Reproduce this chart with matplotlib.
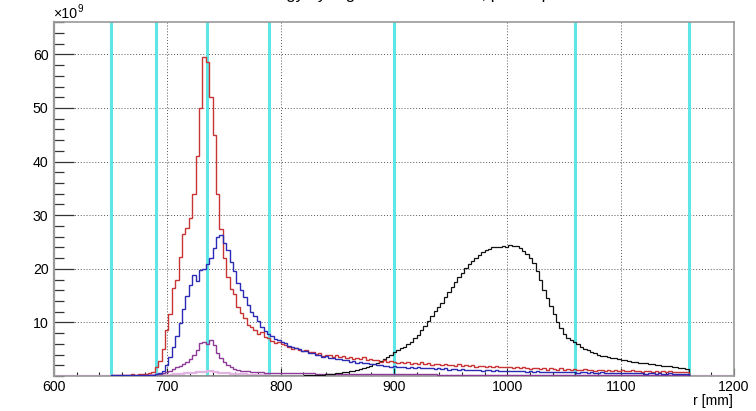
import numpy as np
import matplotlib
matplotlib.use("Agg")
import matplotlib.pyplot as plt
from matplotlib.ticker import MultipleLocator

plt.rcParams['font.family'] = ['Liberation Sans', 'DejaVu Sans']

# ---------------- data (values in units of 1e9) ----------------
BIN_LO, BIN_HI, BIN_W = 650, 1160, 3          # main histograms
PINK_LO, PINK_HI, PINK_W = 600, 1200, 5       # light-pink histogram

red_vals = [0.1,0.1,0.2,0.1,0.2,0.15,0.3,0.2,0.3,0.35,0.3,0.5,0.8,
            1.6,2.8,5.0,8.5,11.5,16.5,17.9,22.2,26.5,27.6,29.5,34.0,41.0,50.0,59.5,58.5,52.0,45.0,34.0,27.5,
            22.0,18.5,16.2,15.3,12.9,11.8,10.8,9.6,9.2,8.6,7.9,8.2,7.3,7.0,6.6,6.2,6.4,
            5.9,5.8,5.5,5.0,5.2,4.8,4.6,4.9,4.4,4.5,4.1,4.3,3.8,4.0,3.9,3.6,3.9,3.5,3.7,3.4,
            3.6,3.2,3.4,3.1,3.5,3.0,3.2,2.9,3.0,2.7,2.9,2.6,2.8,2.6,
            2.5,2.7,2.4,2.6,2.3,2.5,2.3,2.6,2.2,2.4,2.1,2.3,2.2,2.0,2.3,2.0,2.1,1.9,2.2,1.9,
            2.0,1.8,2.0,1.7,1.9,1.8,1.7,1.9,1.6,1.8,1.6,1.7,1.6,
            1.7,1.5,1.6,1.4,1.6,1.5,1.3,1.5,1.4,1.3,1.5,1.2,1.4,1.3,1.2,1.4,1.2,1.3,1.1,1.3,
            1.2,1.1,1.3,1.1,1.2,1.0,1.2,1.1,1.0,1.2,1.0,1.1,1.0,
            1.1,0.9,1.0,1.1,0.9,1.0,0.8,1.0,0.9,0.8,1.0,0.8,0.9,0.7,0.9,0.8,0.7,0.8,0.7,0.8]

blue_vals = [0.1,0.1,0.1,0.15,0.1,0.15,0.1,0.2,0.15,0.2,0.15,0.2,0.2,
             0.3,0.5,0.9,2.0,3.5,5.5,7.5,9.8,12.5,15.0,17.0,18.8,17.8,19.8,20.0,20.9,22.0,23.8,26.0,26.3,
             24.8,23.5,21.3,19.5,17.4,16.0,14.8,13.2,12.0,11.2,10.2,9.2,8.4,7.8,7.4,6.9,6.7,
             6.3,6.1,5.6,5.5,5.2,5.0,4.7,4.6,4.3,4.2,3.9,4.0,3.6,3.7,3.3,3.4,3.1,3.2,2.9,3.0,
             2.7,2.8,2.5,2.7,2.4,2.4,2.2,2.3,2.0,2.1,1.9,1.9,1.7,1.8,
             1.7,1.6,1.7,1.5,1.6,1.5,1.6,1.4,1.5,1.4,1.5,1.3,1.4,1.3,1.4,1.2,1.3,1.3,1.2,1.3,
             1.1,1.2,1.2,1.1,1.2,1.0,1.1,1.1,1.0,1.1,1.0,1.0,1.0,
             1.0,0.9,1.0,0.9,0.9,0.8,0.9,0.8,0.9,0.8,0.8,0.7,0.8,0.8,0.7,0.8,0.7,0.7,0.8,0.7,
             0.6,0.7,0.7,0.6,0.7,0.6,0.6,0.7,0.6,0.6,0.5,0.6,0.6,
             0.6,0.5,0.6,0.5,0.5,0.6,0.5,0.4,0.5,0.5,0.4,0.5,0.4,0.4,0.5,0.4,0.4,0.3,0.4,0.3]

black_vals = [0.0]*50 + [
              0.02,0.03,0.03,0.05,0.05,0.07,0.08,0.1,0.12,0.15,
              0.18,0.22,0.27,0.32,0.38,0.45,0.52,0.6,0.68,0.78,0.9,1.02,1.15,1.3,1.48,1.68,1.9,2.15,2.45,2.8,
              3.2,3.6,4.0,4.4,
              4.8,5.2,5.5,5.9,6.4,7.0,7.7,8.5,9.4,10.3,11.2,12.1,12.9,13.7,14.8,15.7,16.6,17.6,18.5,19.3,
              20.2,20.9,21.5,22.0,22.6,23.1,23.5,23.7,24.0,24.1,24.0,24.2,24.1,24.4,24.3,24.2,23.8,23.4,22.8,22.1,
              21.0,19.6,17.9,16.1,14.5,13.0,11.5,10.1,8.9,7.8,7.1,6.7,6.3,5.9,5.5,5.1,4.8,4.5,4.2,4.0,
              3.8,3.7,3.5,3.4,3.3,3.1,3.0,2.9,2.8,2.7,2.6,2.5,2.45,2.35,2.25,2.2,2.1,2.0,1.95,1.9,
              1.8,1.7,1.6,1.5,1.4,1.3]

purple_vals = [0.05,0.05,0.05,0.05,0.05,0.06,0.06,0.07,0.08,0.1,0.12,0.15,0.2,
               0.3,0.45,0.6,0.8,1.0,1.3,1.6,1.9,2.2,2.6,3.2,4.0,4.9,6.2,6.3,6.0,6.7,5.8,4.3,3.3,
               2.6,2.0,1.6,1.35,1.15,1.0,0.9,0.85,0.8,0.75,0.72,0.7,0.65,0.62,0.6,0.58,0.55,
               0.54,0.53,0.52,0.51,0.5,0.5,0.49,0.48,0.47,0.47,0.46,0.45,0.45,0.44,0.43,0.43,0.42,0.41,0.41,0.4,
               0.4,0.39,0.38,0.38,0.37,0.37,0.36,0.36,0.35,0.35,0.34,0.34,0.33,0.33,
               0.32,0.32,0.31,0.31,0.30,0.30,0.30,0.29,0.29,0.28,0.28,0.28,0.27,0.27,0.27,0.26,0.26,0.26,0.25,0.25,
               0.25,0.24,0.24,0.24,0.23,0.23,0.23,0.23,0.22,0.22,0.22,0.22,0.21,0.21,0.21,0.21,0.20,0.20,0.20,0.20,
               0.20,0.19,0.19,0.19,0.19,0.19,0.18,0.18,0.18,0.18,0.18,0.18,0.17,0.17,0.17,0.17,0.17,0.17,0.17,0.16,
               0.16,0.16,0.16,0.16,0.16,0.16,0.16,0.15,0.15,0.15,0.15,0.15,0.15,0.15,0.15,0.15,0.14,0.14,0.14,0.14,
               0.14,0.14,0.14,0.14,0.14,0.14]

pink_vals = [0.0]*10 + [0.02,0.03,0.04,0.05,0.06,0.08,0.1,0.13,
             0.16,0.2,0.26,0.32,0.4,0.48,0.58,0.7,0.82,0.88,0.8,0.65,0.52,0.42,0.34,0.28,0.22,0.18,0.14,0.11,0.09,0.08] \
            + [0.06]*18 + [0.05]*18 + [0.04]*18 + [0.03]*18 + [0.0]*8

region_lines = [650, 690, 735, 790, 900, 1060, 1160]

x_limits = (600, 1200)
y_limits = (0, 66.1)
x_ticklabels = ["600", "700", "800", "900", "1000", "1100", "1200"]
y_ticklabels = ["10", "20", "30", "40", "50", "60"]

edges = np.arange(BIN_LO, BIN_HI + BIN_W, BIN_W)
pink_edges = np.arange(PINK_LO, PINK_HI + PINK_W, PINK_W)
for v in (red_vals, blue_vals, black_vals, purple_vals):
    assert len(v) == len(edges) - 1, len(v)
assert len(pink_vals) == len(pink_edges) - 1, len(pink_vals)

# ---------------- figure ----------------
W, H = 756, 411
FS = 10.2
fig = plt.figure(figsize=(W / 100, H / 100), dpi=100)
L, R, B, T = 54, 734, 376, 21.7
ax = fig.add_axes([L / W, 1 - B / H, (R - L) / W, (B - T) / H])

ax.set_xlim(*x_limits)
ax.set_ylim(*y_limits)

ax.xaxis.set_major_locator(MultipleLocator(100))
ax.xaxis.set_minor_locator(MultipleLocator(20))
ax.yaxis.set_major_locator(MultipleLocator(10))
ax.yaxis.set_minor_locator(MultipleLocator(2))

# grid
for xv in [700, 800, 900, 1000, 1100]:
    ax.axvline(xv, color='#555555', lw=0.7, ls=(0, (1, 2)), zorder=0.5)
for yv in [10, 20, 30, 40, 50, 60]:
    ax.axhline(yv, color='#555555', lw=0.7, ls=(0, (1, 2)), zorder=0.5)

# region boundaries
for xv in region_lines:
    ax.axvline(xv, color='#5ee6e6', lw=2.2, zorder=1)

# histograms
ax.stairs(pink_vals, pink_edges, color='#e2b4e2', lw=1.6, zorder=2)
ax.stairs(purple_vals, edges, color='#8c3c96', lw=1.0, zorder=3)
ax.stairs(black_vals, edges, color='#111111', lw=0.9, zorder=3)
ax.stairs(red_vals, edges, color='#c83434', lw=1.0, zorder=4)
ax.stairs(blue_vals, edges, color='#2a2ab4', lw=1.0, zorder=5)

# ticks
ax.set_xticks([int(t) for t in x_ticklabels])
ax.set_xticklabels(x_ticklabels)
ax.set_yticks([int(t) for t in y_ticklabels])
ax.set_yticklabels(y_ticklabels)
ax.tick_params(axis='x', which='major', direction='in', length=6, width=0.8,
               color='#222222', labelsize=FS, pad=3, top=False)
ax.tick_params(axis='x', which='minor', direction='in', length=3, width=0.8,
               color='#222222', top=False)
ax.tick_params(axis='y', which='major', direction='in', length=14.4, width=0.9,
               color='#333333', labelsize=FS, pad=4, right=False)
ax.tick_params(axis='y', which='minor', direction='in', length=7.2, width=0.9,
               color='#333333', right=False)

for s in ['top', 'right']:
    ax.spines[s].set_color('#9a9a9a')
    ax.spines[s].set_linewidth(1.2)
ax.spines['left'].set_color('#9a9a9a')
ax.spines['left'].set_linewidth(1.6)
ax.spines['bottom'].set_color('#9a9a9a')
ax.spines['bottom'].set_linewidth(1.2)

# exponent label
fig.text(53 / W, 1 - 18.3 / H, '\u00d710', fontsize=FS, ha='left', va='baseline')
fig.text(77.8 / W, 1 - 12.0 / H, '9', fontsize=7, ha='left', va='baseline')

# axis title
fig.text(733 / W, 1 - 405 / H, 'r [mm]', fontsize=FS, ha='right', va='baseline')

# title (mostly outside the visible canvas, as in the reference)
fig.text(0.53, 1 + 1.5 / H, 'Energy by region versus radius, per step', fontsize=12,
         ha='center', va='baseline')

fig.savefig('out.png', dpi=100)
